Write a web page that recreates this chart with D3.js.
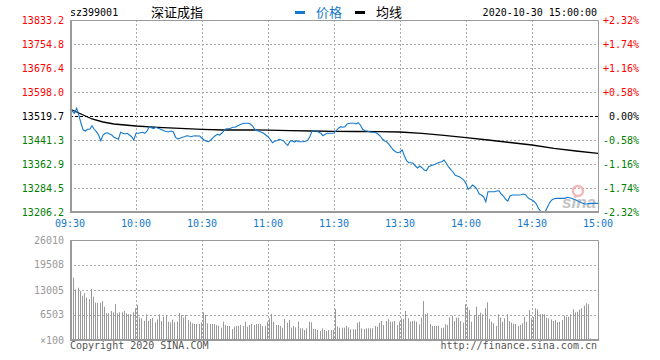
<!DOCTYPE html>
<html>
<head>
<meta charset="utf-8">
<script src="https://cdn.jsdelivr.net/npm/d3@7"></script>
<style>
  body { margin: 0; background: #fff; }
  svg { display: block; }
  text { font-family: "DejaVu Sans Mono", monospace; font-size: 10px; }
  .cjk { font-family: "Noto Sans CJK SC", sans-serif; font-size: 13px; }
</style>
</head>
<body>
<svg id="chart" width="660" height="360"></svg>
<script>
// 深证成指 sz399001, 2020-10-30, one point per minute (09:30-11:30, 13:01-15:00)
var symbol = "sz399001";
var indexName = "深证成指";
var stamp = "2020-10-30 15:00:00";
var prevClose = 13519.7;

var priceTicks = [13833.2, 13754.8, 13676.4, 13598.0, 13519.7, 13441.3, 13362.9, 13284.5, 13206.2];
var pctTicks = ["+2.32%", "+1.74%", "+1.16%", "+0.58%", "0.00%", "-0.58%", "-1.16%", "-1.74%", "-2.32%"];
var volTicks = [26010, 19508, 13005, 6503, 0];
var volTickLabels = ["26010", "19508", "13005", "6503", "×100"];
var timeLabels = ["09:30", "10:00", "10:30", "11:00", "11:30", "13:30", "14:00", "14:30", "15:00"];
var timeIndex = [0, 30, 60, 90, 120, 150, 180, 210, 240];

var price = [
  13542.6, 13536.0, 13528.5, 13544.9, 13523.0, 13495.9, 13474.0, 13470.7, 13476.3, 13476.3,
  13488.0, 13476.3, 13468.4, 13457.6, 13439.0, 13457.6, 13463.2, 13465.1, 13460.9, 13457.6,
  13450.1, 13446.9, 13443.6, 13466.5, 13463.2, 13460.9, 13463.2, 13457.6, 13452.1, 13441.3,
  13463.2, 13463.2, 13465.1, 13466.5, 13463.2, 13470.7, 13484.7, 13481.5, 13478.2, 13482.8,
  13479.5, 13477.2, 13474.0, 13470.7, 13468.4, 13468.4, 13470.7, 13467.4, 13450.1, 13444.6,
  13446.9, 13450.1, 13452.1, 13455.3, 13454.4, 13452.1, 13454.4, 13455.3, 13454.4, 13454.4,
  13446.9, 13441.3, 13437.1, 13435.7, 13441.3, 13448.8, 13455.3, 13459.9, 13457.6, 13463.2,
  13471.7, 13478.2, 13478.2, 13479.5, 13482.8, 13482.8, 13487.0, 13490.3, 13493.6, 13495.9,
  13495.9, 13495.9, 13493.6, 13487.0, 13476.3, 13471.7, 13469.7, 13466.5, 13463.2, 13457.6,
  13452.1, 13443.6, 13432.5, 13437.1, 13439.0, 13443.6, 13441.3, 13439.0, 13430.5, 13424.0,
  13437.1, 13439.0, 13434.8, 13439.0, 13435.7, 13435.7, 13435.7, 13437.1, 13440.3, 13452.1,
  13470.7, 13471.7, 13471.7, 13466.5, 13463.2, 13455.3, 13459.9, 13463.2, 13463.2, 13463.2,
  13464.2, 13471.7, 13479.5, 13484.7, 13482.8, 13484.7, 13493.6, 13495.9, 13495.9, 13495.9,
  13493.6, 13497.8, 13490.3, 13476.3, 13471.7, 13470.7, 13468.4, 13466.5, 13466.5, 13465.1,
  13460.9, 13454.4, 13444.6, 13439.0, 13434.8, 13427.2, 13417.4, 13408.6, 13403.1, 13399.8,
  13402.1, 13408.6, 13389.0, 13373.7, 13367.2, 13367.2, 13365.2, 13356.4, 13349.8, 13356.4,
  13350.8, 13343.3, 13341.0, 13354.1, 13357.3, 13359.6, 13361.9, 13365.2, 13368.5, 13370.4,
  13376.0, 13365.2, 13354.1, 13345.6, 13337.7, 13327.0, 13323.7, 13321.4, 13316.2, 13310.6,
  13299.8, 13280.2, 13286.8, 13294.3, 13288.7, 13280.2, 13264.9, 13261.6, 13256.1, 13239.7,
  13272.4, 13272.4, 13272.4, 13272.4, 13274.7, 13275.7, 13264.9, 13258.4, 13247.6, 13242.0,
  13258.4, 13261.6, 13261.6, 13261.6, 13261.6, 13262.6, 13264.9, 13262.6, 13254.1, 13248.6,
  13245.3, 13239.7, 13232.2, 13216.9, 13208.4, 13206.2, 13207.0, 13221.4, 13236.5, 13245.3,
  13249.5, 13250.8, 13250.8, 13250.8, 13250.8, 13250.8, 13254.1, 13252.8, 13250.8, 13247.6,
  13245.3, 13241.0, 13237.8, 13234.5, 13232.2, 13233.2, 13234.5, 13234.5, 13234.5, 13234.5,
  13234.5
];

// 均线 read every few minutes
var avgIndex = [0, 5, 10, 15, 20, 30, 40, 50, 60, 70, 80, 90, 100, 110, 120, 130, 140, 150, 160, 170, 180, 190, 200, 210, 220, 230, 240];
var avgPrice = [13542.6, 13526.2, 13509.9, 13500.1, 13493.6, 13487.0, 13482.8, 13479.5, 13476.3, 13474.0,
  13474.5, 13473.3, 13471.7, 13470.7, 13469.7, 13469.1, 13468.4, 13467.4, 13463.2, 13456.7,
  13448.8, 13441.3, 13433.1, 13425.0, 13414.2, 13405.4, 13397.9];

// volume, unit x100
var volume = [
  14300, 16200, 13190, 13600, 12750, 11520, 12150, 11000, 10660, 13270,
  11260, 9700, 9700, 9700, 10140, 8660, 6950, 6950, 7540, 7200,
  9360, 6950, 7200, 7200, 7540, 6950, 6690, 6690, 7200, 8250,
  9100, 5900, 5640, 5020, 6690, 5020, 5460, 5800, 4600, 5380,
  6690, 4940, 6060, 6320, 4760, 4600, 5280, 4600, 4760, 7020,
  6500, 5800, 6500, 5200, 4760, 4340, 4160, 4160, 4160, 4600,
  7200, 6500, 4340, 4160, 4160, 4160, 3900, 3720, 3200, 4760,
  3900, 3640, 3640, 2860, 3460, 3640, 3640, 3900, 3640, 4760,
  3460, 3900, 4160, 3900, 4160, 4160, 4160, 3640, 3640, 4760,
  5640, 6760, 4760, 3900, 3900, 3640, 3200, 5460, 4500, 5200,
  3200, 3640, 3300, 4760, 3040, 3040, 2600, 3040, 4760, 4600,
  2860, 2860, 2600, 2340, 3040, 2600, 2340, 2600, 2600, 2600,
  8060, 3460, 3200, 3200, 3200, 3640, 3300, 2780, 2780, 2780,
  4500, 4760, 3040, 2860, 3040, 3040, 3040, 3040, 3640, 3460,
  4500, 4940, 3900, 4940, 5380, 4760, 4760, 4940, 3900, 4760,
  5640, 5460, 7540, 5640, 4760, 4940, 5020, 4760, 4080, 5800,
  10140, 6760, 6950, 4160, 3640, 3640, 3640, 3720, 3040, 3200,
  4080, 3900, 5900, 6320, 4940, 5800, 5800, 4940, 4500, 9290,
  8660, 7800, 4760, 6500, 8660, 6500, 7100, 6690, 8250, 9810,
  5460, 4760, 4340, 3720, 6690, 5800, 4760, 5640, 6690, 4940,
  4500, 4240, 4160, 3640, 3900, 4340, 5980, 4760, 7800, 5640,
  5980, 8250, 7990, 6690, 6760, 6690, 5800, 5640, 5380, 4940,
  5120, 4600, 4760, 5200, 6320, 6060, 6060, 6690, 7990, 7200,
  7360, 7880, 8250, 8920, 9550, 9290, 440, 0, 0, 0,
  0
];

var BLUE = "#1479cc", GRID = "#aaaaaa", BORDER = "#9a9a9a";
var RED = "#ff0000", GREEN = "#008000";

var svg = d3.select("#chart");
var left = 70, right = 598;
var x = d3.scaleLinear().domain([0, 240]).range([left, right]);
var y = d3.scaleLinear().domain([priceTicks[8], priceTicks[0]]).range([212, 20]);
var yv = d3.scaleLinear().domain([0, volTicks[0]]).range([340, 240]);

function tickColor(i) { return i < 4 ? RED : (i == 4 ? "#000" : GREEN); }

// header
svg.append("text").attr("x", 70).attr("y", 16).text(symbol);
svg.append("text").attr("class", "cjk").attr("x", 151).attr("y", 17).text(indexName);
svg.append("rect").attr("x", 295).attr("y", 11).attr("width", 10).attr("height", 3).attr("fill", BLUE);
svg.append("text").attr("class", "cjk").attr("x", 316).attr("y", 17).attr("fill", BLUE).text("价格");
svg.append("rect").attr("x", 355).attr("y", 11).attr("width", 10).attr("height", 3).attr("fill", "#000");
svg.append("text").attr("class", "cjk").attr("x", 376).attr("y", 17).text("均线");
svg.append("text").attr("x", 597).attr("y", 16).attr("text-anchor", "end").text(stamp);

// ---- price panel ----
var grid = svg.append("g");
grid.selectAll("line.h").data(priceTicks.slice(1, 8)).enter().append("line")
  .attr("x1", left).attr("x2", right)
  .attr("y1", function (d) { return Math.round(y(d)) + 0.5; })
  .attr("y2", function (d) { return Math.round(y(d)) + 0.5; })
  .attr("stroke", function (d, i) { return i == 3 ? "#000" : GRID; })
  .attr("stroke-dasharray", function (d, i) { return i == 3 ? "3,2" : "2,2"; });
grid.selectAll("line.v").data(timeIndex.slice(1, 8)).enter().append("line")
  .attr("x1", function (d) { return Math.round(x(d)) + 0.5; })
  .attr("x2", function (d) { return Math.round(x(d)) + 0.5; })
  .attr("y1", 20).attr("y2", 212)
  .attr("stroke", GRID).attr("stroke-dasharray", "2,2");

svg.selectAll("text.lp").data(priceTicks).enter().append("text")
  .attr("x", 64).attr("y", function (d) { return y(d) + 3.5; })
  .attr("text-anchor", "end")
  .attr("fill", function (d, i) { return tickColor(i); })
  .text(function (d) { return d.toFixed(1); });
svg.selectAll("text.rp").data(pctTicks).enter().append("text")
  .attr("x", 639).attr("y", function (d, i) { return y(priceTicks[i]) + 3.5; })
  .attr("text-anchor", "end")
  .attr("fill", function (d, i) { return tickColor(i); })
  .text(function (d) { return d; });

// watermark
var wm = svg.append("g").attr("opacity", 0.8);
wm.append("circle").attr("cx", 578).attr("cy", 191).attr("r", 5).attr("fill", "none").attr("stroke", "#f4a6a6").attr("stroke-width", 2.5);
wm.append("text").attr("x", 562).attr("y", 208).attr("fill", "#b4b4b4")
  .style("font-family", "Liberation Sans, sans-serif").style("font-size", "17px")
  .style("font-style", "italic").style("font-weight", "bold").text("sina");

var avgLine = d3.line()
  .x(function (d) { return x(d[0]); })
  .y(function (d) { return y(d[1]); });
svg.append("path")
  .datum(avgIndex.map(function (d, i) { return [d, avgPrice[i]]; }))
  .attr("d", avgLine).attr("fill", "none").attr("stroke", "#000").attr("stroke-width", 1.3);

var priceLine = d3.line()
  .x(function (d, i) { return x(i); })
  .y(function (d) { return y(d); });
svg.append("path").datum(price).attr("d", priceLine)
  .attr("fill", "none").attr("stroke", BLUE).attr("stroke-width", 1.1);

// frame
svg.append("path").attr("d", "M" + left + ",20.5H" + (right + 0.5) + "V212")
  .attr("fill", "none").attr("stroke", BORDER);
svg.append("path").attr("d", "M" + (left + 1) + ",20V" + 212 + "H" + (right + 1))
  .attr("fill", "none").attr("stroke", BORDER).attr("stroke-width", 2);

// time labels
svg.selectAll("text.t").data(timeLabels).enter().append("text")
  .attr("x", function (d, i) { return x(timeIndex[i]); })
  .attr("y", 227).attr("text-anchor", "middle").attr("fill", BLUE)
  .text(function (d) { return d; });

// ---- volume panel ----
svg.selectAll("line.vh").data(volTicks.slice(1, 4)).enter().append("line")
  .attr("x1", left).attr("x2", right)
  .attr("y1", function (d) { return Math.round(yv(d)) + 0.5; })
  .attr("y2", function (d) { return Math.round(yv(d)) + 0.5; })
  .attr("stroke", GRID).attr("stroke-dasharray", "2,2");
svg.selectAll("line.vv").data(timeIndex.slice(1, 8)).enter().append("line")
  .attr("x1", function (d) { return Math.round(x(d)) + 0.5; })
  .attr("x2", function (d) { return Math.round(x(d)) + 0.5; })
  .attr("y1", 240).attr("y2", 340)
  .attr("stroke", GRID).attr("stroke-dasharray", "2,2");

svg.append("g").selectAll("rect").data(volume).enter().append("rect")
  .attr("x", function (d, i) { return Math.round(x(i)) + 1; })
  .attr("width", 1)
  .attr("y", function (d) { return yv(d); })
  .attr("height", function (d) { return 340 - yv(d); })
  .attr("fill", "#999");

svg.selectAll("text.vl").data(volTickLabels).enter().append("text")
  .attr("x", 64).attr("y", function (d, i) { return yv(volTicks[i]) + 3.5; })
  .attr("text-anchor", "end").attr("fill", "#999")
  .text(function (d) { return d; });

svg.append("path").attr("d", "M" + left + ",240.5H" + (right + 0.5) + "V340")
  .attr("fill", "none").attr("stroke", BORDER);
svg.append("path").attr("d", "M" + (left + 1) + ",240V" + 340 + "H" + (right + 1))
  .attr("fill", "none").attr("stroke", BORDER).attr("stroke-width", 2);

svg.append("text").attr("x", 70).attr("y", 349).attr("fill", "#555").text("Copyright 2020 SINA.COM");
svg.append("text").attr("x", 597).attr("y", 349).attr("text-anchor", "end").attr("fill", "#555").text("http://finance.sina.com.cn");
</script>
</body>
</html>
